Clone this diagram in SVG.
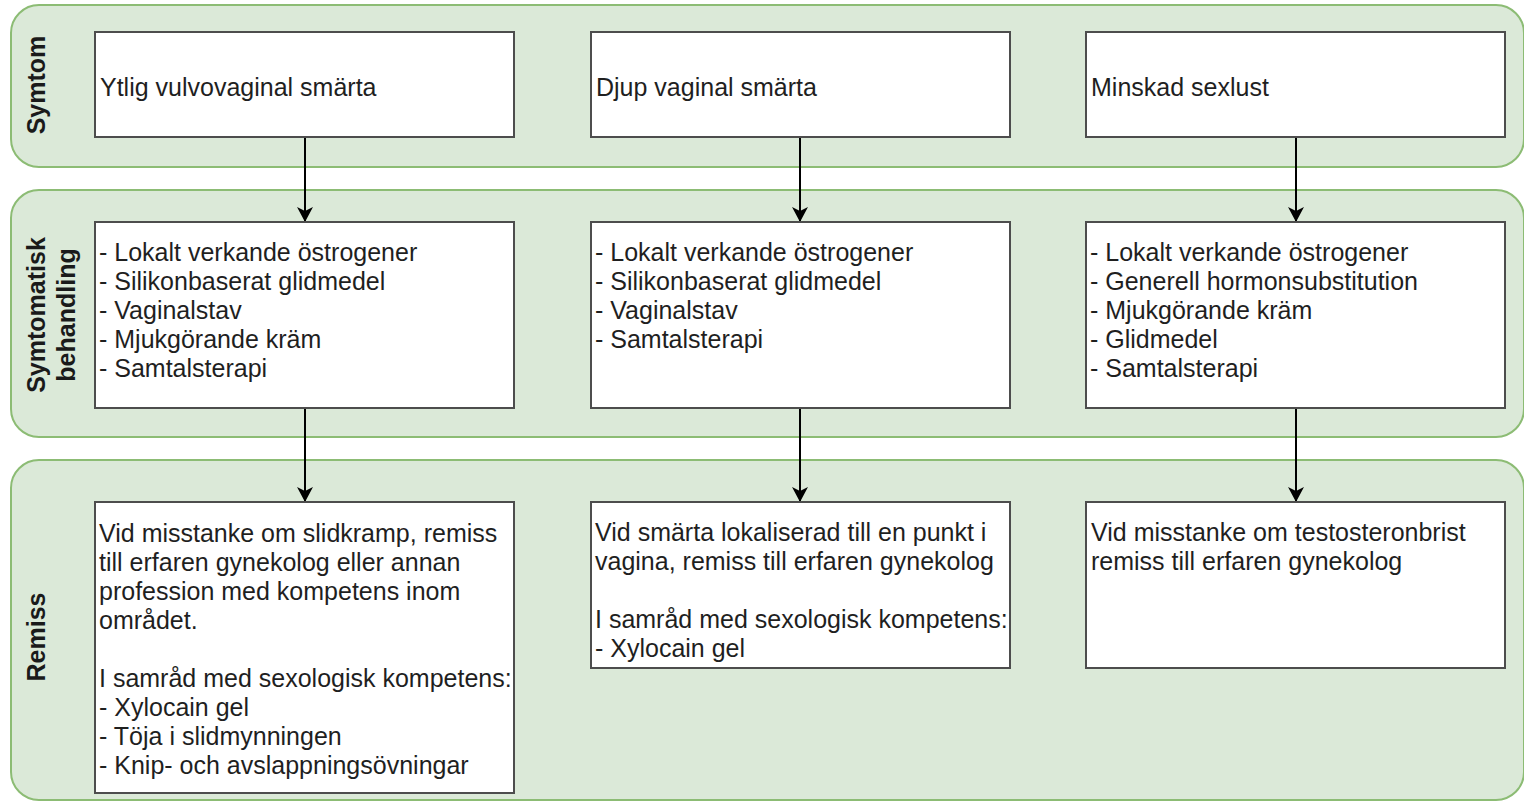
<svg xmlns="http://www.w3.org/2000/svg" width="1524" height="804" viewBox="0 0 1524 804">
  <defs>
    <style>
      .lane { fill: #dbe9d8; stroke: #8cbc74; stroke-width: 2; }
      .lane-label { font-family: "Liberation Sans", Arial, sans-serif; font-size: 25px; font-weight: bold; fill: #1a1a1a; text-anchor: middle; }
      .box { fill: #ffffff; stroke: #4d4d4d; stroke-width: 2; }
      .txt { font-family: "Liberation Sans", Arial, sans-serif; font-size: 25px; fill: #1f1f1f; }
      .edge { stroke: #000000; stroke-width: 2; fill: none; marker-end: url(#arrow); }
    </style>
    <marker id="arrow" viewBox="0 0 15 16" refX="15" refY="8" markerWidth="15" markerHeight="16" markerUnits="userSpaceOnUse" orient="auto">
      <path d="M0,0 L15,8 L0,16 L4,8 Z" fill="#000000"/>
    </marker>
  </defs>

  <rect width="1524" height="804" fill="#ffffff"/>

  <!-- swimlanes -->
  <g id="lane-symtom">
    <rect class="lane" x="11" y="5" width="1513" height="162" rx="28" ry="28"/>
    <text class="lane-label" transform="translate(45,85) rotate(-90)">Symtom</text>
  </g>
  <g id="lane-behandling">
    <rect class="lane" x="11" y="190" width="1513" height="247" rx="28" ry="28"/>
    <text class="lane-label" transform="translate(45,315) rotate(-90)"><tspan x="0" y="0">Symtomatisk</tspan><tspan x="0" y="30">behandling</tspan></text>
  </g>
  <g id="lane-remiss">
    <rect class="lane" x="11" y="460" width="1513" height="340" rx="28" ry="28"/>
    <text class="lane-label" transform="translate(45,637) rotate(-90)">Remiss</text>
  </g>

  <!-- connectors -->
  <g id="connectors">
    <line class="edge" x1="305" y1="137" x2="305" y2="222"/>
    <line class="edge" x1="800" y1="137" x2="800" y2="222"/>
    <line class="edge" x1="1296" y1="137" x2="1296" y2="222"/>
    <line class="edge" x1="305" y1="408" x2="305" y2="502"/>
    <line class="edge" x1="800" y1="408" x2="800" y2="502"/>
    <line class="edge" x1="1296" y1="408" x2="1296" y2="502"/>
  </g>

  <!-- symptoms -->
  <g id="symptom-ytlig">
    <rect class="box" x="95" y="32" width="419" height="105"/>
    <text class="txt" x="100" y="96">Ytlig vulvovaginal smärta</text>
  </g>
  <g id="symptom-djup">
    <rect class="box" x="591" y="32" width="419" height="105"/>
    <text class="txt" x="596" y="96">Djup vaginal smärta</text>
  </g>
  <g id="symptom-sexlust">
    <rect class="box" x="1086" y="32" width="419" height="105"/>
    <text class="txt" x="1091" y="96">Minskad sexlust</text>
  </g>

  <!-- symptomatic treatment -->
  <g id="behandling-ytlig">
    <rect class="box" x="95" y="222" width="419" height="186"/>
    <text class="txt">
      <tspan x="99" y="261">- Lokalt verkande östrogener</tspan>
      <tspan x="99" y="290">- Silikonbaserat glidmedel</tspan>
      <tspan x="99" y="319">- Vaginalstav</tspan>
      <tspan x="99" y="348">- Mjukgörande kräm</tspan>
      <tspan x="99" y="377">- Samtalsterapi</tspan>
    </text>
  </g>
  <g id="behandling-djup">
    <rect class="box" x="591" y="222" width="419" height="186"/>
    <text class="txt">
      <tspan x="595" y="261">- Lokalt verkande östrogener</tspan>
      <tspan x="595" y="290">- Silikonbaserat glidmedel</tspan>
      <tspan x="595" y="319">- Vaginalstav</tspan>
      <tspan x="595" y="348">- Samtalsterapi</tspan>
    </text>
  </g>
  <g id="behandling-sexlust">
    <rect class="box" x="1086" y="222" width="419" height="186"/>
    <text class="txt">
      <tspan x="1090" y="261">- Lokalt verkande östrogener</tspan>
      <tspan x="1090" y="290">- Generell hormonsubstitution</tspan>
      <tspan x="1090" y="319">- Mjukgörande kräm</tspan>
      <tspan x="1090" y="348">- Glidmedel</tspan>
      <tspan x="1090" y="377">- Samtalsterapi</tspan>
    </text>
  </g>

  <!-- referrals -->
  <g id="remiss-ytlig">
    <rect class="box" x="95" y="502" width="419" height="291"/>
    <text class="txt">
      <tspan x="99" y="542">Vid misstanke om slidkramp, remiss</tspan>
      <tspan x="99" y="571">till erfaren gynekolog eller annan</tspan>
      <tspan x="99" y="600">profession med kompetens inom</tspan>
      <tspan x="99" y="629">området.</tspan>
      <tspan x="99" y="687">I samråd med sexologisk kompetens:</tspan>
      <tspan x="99" y="716">- Xylocain gel</tspan>
      <tspan x="99" y="745">- Töja i slidmynningen</tspan>
      <tspan x="99" y="774">- Knip- och avslappningsövningar</tspan>
    </text>
  </g>
  <g id="remiss-djup">
    <rect class="box" x="591" y="502" width="419" height="166"/>
    <text class="txt">
      <tspan x="595" y="541">Vid smärta lokaliserad till en punkt i</tspan>
      <tspan x="595" y="570">vagina, remiss till erfaren gynekolog</tspan>
      <tspan x="595" y="628">I samråd med sexologisk kompetens:</tspan>
      <tspan x="595" y="657">- Xylocain gel</tspan>
    </text>
  </g>
  <g id="remiss-sexlust">
    <rect class="box" x="1086" y="502" width="419" height="166"/>
    <text class="txt">
      <tspan x="1091" y="541">Vid misstanke om testosteronbrist</tspan>
      <tspan x="1091" y="570">remiss till erfaren gynekolog</tspan>
    </text>
  </g>
</svg>
